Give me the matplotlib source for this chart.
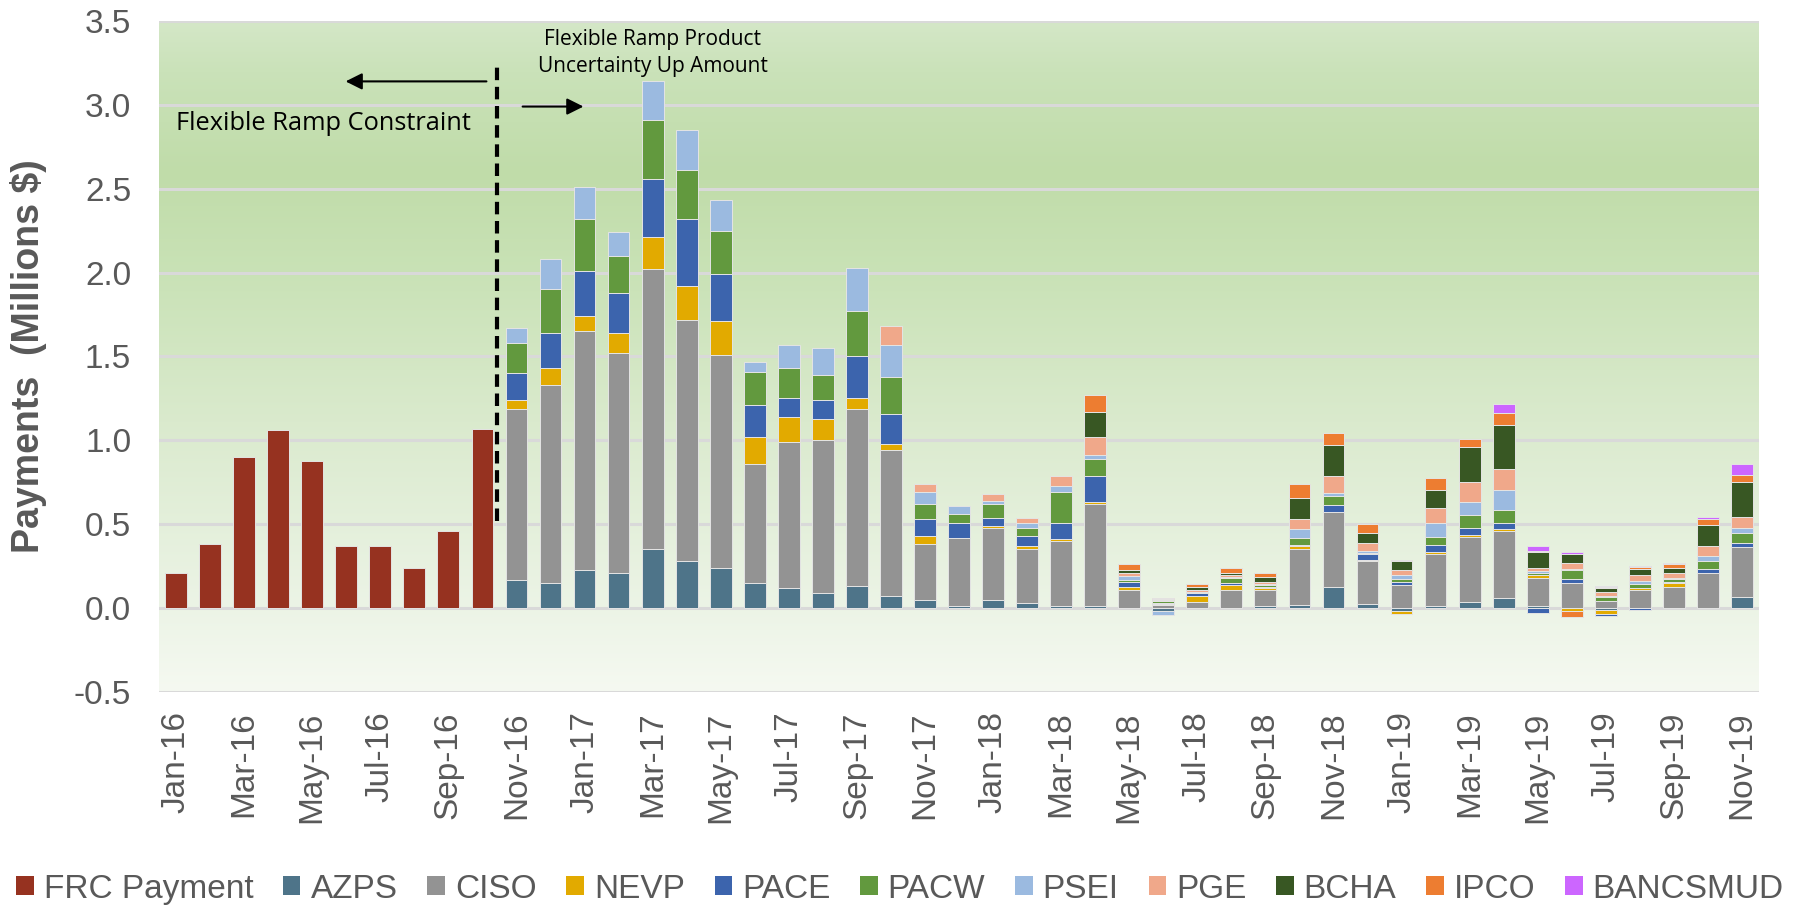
import matplotlib
matplotlib.use("Agg")
import matplotlib.pyplot as plt
import numpy as np
from matplotlib.patches import Patch

plt.rcParams['font.family'] = ['Liberation Sans', 'DejaVu Sans']

# ---------------- data ----------------
months = ["Jan-16", "Feb-16", "Mar-16", "Apr-16", "May-16", "Jun-16", "Jul-16", "Aug-16",
          "Sep-16", "Oct-16", "Nov-16", "Dec-16", "Jan-17", "Feb-17", "Mar-17", "Apr-17",
          "May-17", "Jun-17", "Jul-17", "Aug-17", "Sep-17", "Oct-17", "Nov-17", "Dec-17",
          "Jan-18", "Feb-18", "Mar-18", "Apr-18", "May-18", "Jun-18", "Jul-18", "Aug-18",
          "Sep-18", "Oct-18", "Nov-18", "Dec-18", "Jan-19", "Feb-19", "Mar-19", "Apr-19",
          "May-19", "Jun-19", "Jul-19", "Aug-19", "Sep-19", "Oct-19", "Nov-19"]

# FRC payments Jan-16 .. Oct-16
frc = [0.21, 0.38, 0.90, 1.06, 0.88, 0.37, 0.37, 0.24, 0.46, 1.07]

# FRP uncertainty payments Nov-16 .. Nov-19
azps = [0.17, 0.15, 0.23, 0.21, 0.35, 0.28, 0.24, 0.15, 0.12, 0.09, 0.13, 0.07,
        0.05, 0.01, 0.05, 0.03, 0.01, 0.01, 0.0, -0.015, 0.0, 0.0, 0.012, 0.018,
        0.126, 0.026, -0.016, 0.012, 0.034, 0.058, 0.01, 0.0, -0.01, 0.0, 0.0, 0.0,
        0.066]
ciso = [1.02, 1.18, 1.42, 1.31, 1.67, 1.44, 1.27, 0.71, 0.87, 0.91, 1.06, 0.87,
        0.33, 0.41, 0.43, 0.32, 0.39, 0.61, 0.11, 0.02, 0.035, 0.11, 0.098, 0.337,
        0.445, 0.254, 0.14, 0.313, 0.391, 0.399, 0.17, 0.148, 0.042, 0.11, 0.126, 0.21,
        0.297]
nevp = [0.05, 0.10, 0.09, 0.12, 0.19, 0.20, 0.20, 0.16, 0.15, 0.13, 0.06, 0.04,
        0.05, 0.0, 0.01, 0.02, 0.01, 0.01, 0.015, 0.005, 0.038, 0.03, 0.008, 0.016,
        0.0, 0.008, -0.018, 0.008, 0.008, 0.014, 0.016, -0.02, -0.026, 0.008, 0.022, 0.0,
        0.0]
pace = [0.16, 0.21, 0.27, 0.24, 0.35, 0.40, 0.28, 0.19, 0.11, 0.11, 0.25, 0.18,
        0.10, 0.09, 0.05, 0.06, 0.10, 0.16, 0.03, 0.003, 0.016, 0.012, 0.008, 0.008,
        0.046, 0.033, 0.016, 0.046, 0.046, 0.038, -0.03, 0.024, -0.01, -0.01, 0.008, 0.024,
        0.024]
pacw = [0.18, 0.26, 0.31, 0.22, 0.35, 0.29, 0.26, 0.20, 0.18, 0.15, 0.27, 0.22,
        0.09, 0.05, 0.08, 0.05, 0.18, 0.10, 0.01, 0.012, 0.005, 0.028, 0.01, 0.038,
        0.054, 0.006, 0.016, 0.046, 0.078, 0.078, 0.015, 0.054, 0.022, 0.024, 0.016, 0.046,
        0.062]
psei = [0.09, 0.18, 0.19, 0.14, 0.23, 0.24, 0.18, 0.06, 0.14, 0.16, 0.26, 0.19,
        0.07, 0.05, 0.02, 0.03, 0.04, 0.02, 0.025, -0.025, 0.003, 0.004, 0.006, 0.054,
        0.016, 0.014, 0.026, 0.084, 0.076, 0.116, 0.009, 0.008, 0.008, 0.022, 0.008, 0.03,
        0.03]
pge = [0.0, 0.0, 0.0, 0.0, 0.0, 0.0, 0.0, 0.0, 0.0, 0.0, 0.0, 0.11,
       0.05, 0.0, 0.04, 0.03, 0.06, 0.11, 0.02, 0.01, 0.01, 0.012, 0.014, 0.06,
       0.099, 0.046, 0.028, 0.086, 0.121, 0.129, 0.021, 0.037, 0.024, 0.032, 0.031, 0.061,
       0.062]
bcha = [0.0, 0.0, 0.0, 0.0, 0.0, 0.0, 0.0, 0.0, 0.0, 0.0, 0.0, 0.0,
        0.0, 0.0, 0.0, 0.0, 0.0, 0.15, 0.015, 0.003, 0.02, 0.015, 0.032, 0.124,
        0.184, 0.062, 0.054, 0.108, 0.208, 0.26, 0.092, 0.054, 0.022, 0.038, 0.03, 0.124,
        0.213]
ipco = [0.0, 0.0, 0.0, 0.0, 0.0, 0.0, 0.0, 0.0, 0.0, 0.0, 0.0, 0.0,
        0.0, 0.0, 0.0, 0.0, 0.0, 0.10, 0.04, 0.01, 0.016, 0.03, 0.022, 0.085,
        0.076, 0.052, 0.008, 0.075, 0.046, 0.07, 0.008, -0.034, 0.008, 0.012, 0.022, 0.038,
        0.04]
bancsmud = [0.0, 0.0, 0.0, 0.0, 0.0, 0.0, 0.0, 0.0, 0.0, 0.0, 0.0, 0.0,
            0.0, 0.0, 0.0, 0.0, 0.0, 0.0, 0.0, 0.0, 0.0, 0.0, 0.0, 0.0,
            0.0, 0.0, 0.0, 0.0, 0.0, 0.054, 0.03, 0.008, 0.008, 0.004, 0.008, 0.008,
            0.068]

series_names = ["AZPS", "CISO", "NEVP", "PACE", "PACW", "PSEI", "PGE", "BCHA", "IPCO", "BANCSMUD"]
series_vals = [azps, ciso, nevp, pace, pacw, psei, pge, bcha, ipco, bancsmud]
series_colors = ["#4E7489", "#939393", "#E2AA00", "#3C64AD", "#62993E", "#9BBAE0",
                 "#F0A88A", "#385723", "#ED7D31", "#CC66FF"]
frc_color = "#963220"

# ---------------- figure ----------------
fig = plt.figure(figsize=(18, 9.05), dpi=100)
ax = fig.add_axes([159/1800, 213/905, 1600/1800, 671/905])

n = len(months)
x = np.arange(n)
xmin, xmax, ymin, ymax = -0.5, n - 0.5, -0.5, 3.5

# gradient background
stops_y = [-0.5, 0.0, 1.0, 2.0, 2.6, 3.2, 3.5]
stops_c = ["#F5F9F1", "#ECF4E6", "#DCEBD0", "#C9E2B6", "#C0DCA9", "#CAE2B9", "#D4E7C7"]
yy = np.linspace(ymin, ymax, 400)
rgb = np.array([matplotlib.colors.to_rgb(c) for c in stops_c])
grad = np.stack([np.interp(yy, stops_y, rgb[:, k]) for k in range(3)], axis=-1)[:, None, :]
ax.imshow(grad, extent=[xmin, xmax, ymin, ymax], origin="lower", aspect="auto", zorder=0)

# gridlines
for gy in np.arange(-0.5, 3.51, 0.5):
    ax.axhline(gy, color="#D9D9D9", lw=2.2, zorder=1)

bw = 0.64
edge = dict(edgecolor="#E4E4E4", linewidth=0.7)
ax.bar(x[:len(frc)], frc, width=bw, color=frc_color, zorder=2, **edge)

off = n - len(azps)
pos_b = np.zeros(len(azps))
neg_b = np.zeros(len(azps))
for name, vals, col in zip(series_names, series_vals, series_colors):
    v = np.array(vals)
    bottoms = np.where(v >= 0, pos_b, neg_b)
    mask = v != 0
    ax.bar(x[off:][mask], v[mask], bottom=bottoms[mask], width=bw, color=col, zorder=2, **edge)
    pos_b = pos_b + np.where(v > 0, v, 0)
    neg_b = neg_b + np.where(v < 0, v, 0)

ax.set_xlim(xmin, xmax)
ax.set_ylim(ymin, ymax)
for s in ax.spines.values():
    s.set_visible(False)

ax.set_yticks(np.arange(-0.5, 3.51, 0.5))
ax.set_yticklabels([f"{v:.1f}" for v in np.arange(-0.5, 3.51, 0.5)])
ax.set_xticks(x[::2])
ax.set_xticklabels(months[::2], rotation=90)
ax.tick_params(axis="both", length=0, colors="#595959", labelsize=24)
ax.tick_params(axis="y", pad=20)
ax.tick_params(axis="x", pad=14)
ax.set_ylabel("Payments  (Millions $)", fontsize=27, fontweight="bold", color="#595959", labelpad=19)

# annotations
ax.plot([9.44, 9.44], [0.52, 3.26], color="black", lw=3, ls=(0, (3, 1.6)), zorder=3)
ax.annotate("", xy=(4.9, 3.14), xytext=(9.2, 3.14),
            arrowprops=dict(arrowstyle="-|>", color="black", lw=1.5, mutation_scale=25), zorder=3)
ax.annotate("", xy=(12.05, 2.99), xytext=(10.1, 2.99),
            arrowprops=dict(arrowstyle="-|>", color="black", lw=1.5, mutation_scale=25), zorder=3)
ax.text(0.0, 2.89, "Flexible Ramp Constraint", fontsize=18.3, family=["Open Sans", "DejaVu Sans"],
        ha="left", va="center", color="black", zorder=3)
ax.text(14.0, 3.31, "Flexible Ramp Product\nUncertainty Up Amount", fontsize=15,
        family=["Open Sans", "DejaVu Sans"], ha="center", va="center", color="black",
        linespacing=1.4, zorder=3)

# legend
handles = [Patch(facecolor=frc_color, label="FRC Payment")] + \
          [Patch(facecolor=c, label=nm) for nm, c in zip(series_names, series_colors)]
fig.legend(handles=handles, loc="center", bbox_to_anchor=(0.5, 1 - 889/905), ncol=11,
           frameon=False, fontsize=24, handlelength=0.52, handleheight=0.52,
           handletextpad=0.3, columnspacing=0.9, labelcolor="#595959")

fig.savefig("out.png", dpi=100)
